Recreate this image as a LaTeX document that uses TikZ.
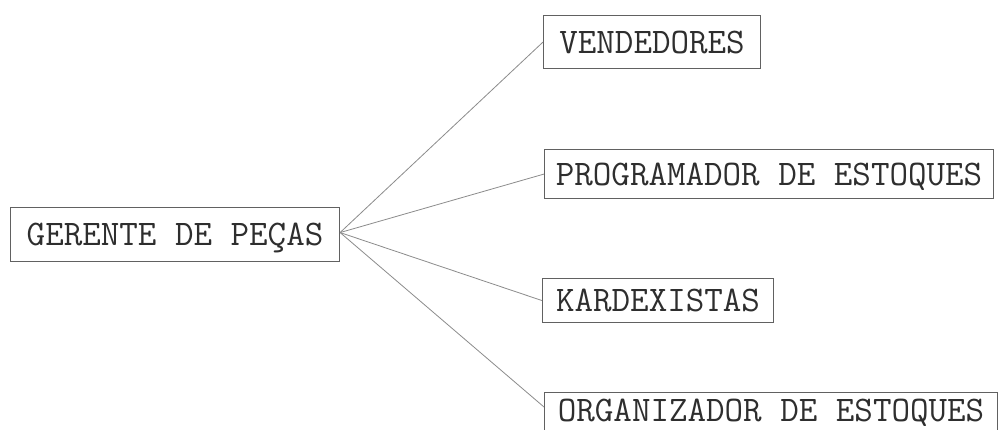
\documentclass[tikz,border=0pt]{standalone}
\usepackage{fontspec}
\begin{document}
\begin{tikzpicture}[x=1pt,y=-1pt,
  box/.style={draw=black!62, line width=1.1pt, anchor=north west, inner sep=0pt,
    text height=22pt, text depth=0pt, text=black!82,
    font=\ttfamily\fontsize{36}{40}\selectfont},
  link/.style={draw=black!45, line width=0.8pt}]
\useasboundingbox (0,0) rectangle (1001,429);
\clip (0,0) rectangle (1001,429);
\fill[white] (0,0) rectangle (1001,429);
\node[box, minimum width=329pt, minimum height=54pt] (g) at (10,207) {GERENTE DE PEÇAS};
\node[box, minimum width=217pt, minimum height=53pt] (v) at (543,15) {VENDEDORES};
\node[box, minimum width=449pt, minimum height=49pt] (p) at (544,149) {PROGRAMADOR DE ESTOQUES};
\node[box, minimum width=231pt, minimum height=44pt] (k) at (542,278) {KARDEXISTAS};
\node[box, text depth=14pt, minimum width=453pt, minimum height=50pt] (o) at (544,392) {ORGANIZADOR DE ESTOQUES};
\coordinate (j) at ([yshift=2pt]g.east);
\coordinate (oa) at ([yshift=-15pt]o.north west);
\draw[link] (j) -- (v.west);
\draw[link] (j) -- (p.west);
\draw[link] (j) -- (k.west);
\draw[link] (j) -- (oa);
\end{tikzpicture}
\end{document}
